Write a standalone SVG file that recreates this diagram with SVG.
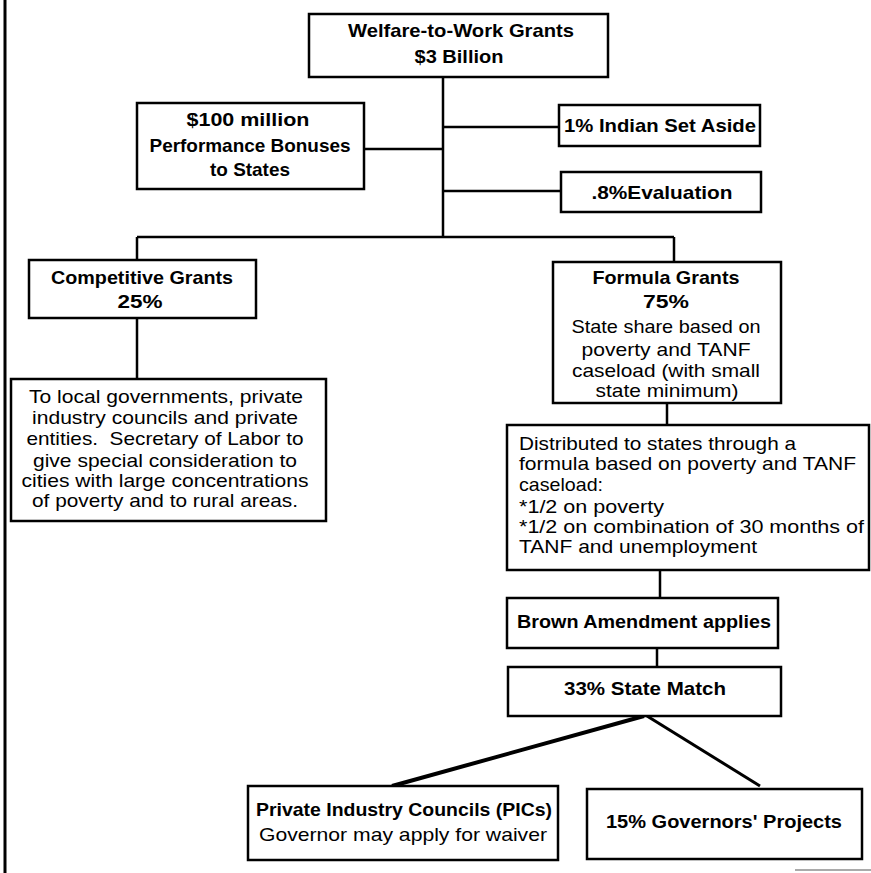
<svg xmlns="http://www.w3.org/2000/svg" width="871" height="873" viewBox="0 0 871 873">
<style>
.box{fill:#fff;stroke:#000;stroke-width:2.5}
.ln{stroke:#000;stroke-width:2.5;fill:none}
text{font-family:"Liberation Sans",Arial,sans-serif;font-size:19px;fill:#000}
.b{font-weight:bold}
.c{text-anchor:middle}
</style>
<rect width="871" height="873" fill="#fff"/>
<line x1="5" y1="0" x2="5" y2="873" stroke="#000" stroke-width="3"/>
<line x1="795" y1="870" x2="871" y2="870" stroke="#aaa" stroke-width="2"/>
<g id="connectors">
<path class="ln" d="M443 77V237M364 149H443M443 127H559M443 191H561M137 237H674M137 237V260M674 237V262M137 318V379M667 403V425M660 570V598M657 648V667"/>
<line x1="644" y1="716" x2="392" y2="786" stroke="#000" stroke-width="4"/>
<line x1="647" y1="716" x2="760" y2="786" stroke="#000" stroke-width="3"/>
</g>
<g id="n_top"><rect class="box" x="309" y="14" width="299" height="63"/>
<text class="b c" x="461" y="37" textLength="226" lengthAdjust="spacingAndGlyphs">Welfare-to-Work Grants</text>
<text class="b c" x="459" y="63" textLength="89" lengthAdjust="spacingAndGlyphs">$3 Billion</text></g>
<g id="n_bonus"><rect class="box" x="137" y="103" width="227" height="86"/>
<text class="b c" x="248" y="126" textLength="123" lengthAdjust="spacingAndGlyphs">$100 million</text>
<text class="b c" x="250" y="152" textLength="201" lengthAdjust="spacingAndGlyphs">Performance Bonuses</text>
<text class="b c" x="250" y="176" textLength="80" lengthAdjust="spacingAndGlyphs">to States</text></g>
<g id="n_indian"><rect class="box" x="559" y="105" width="201" height="41"/>
<text class="b c" x="660" y="132" textLength="192" lengthAdjust="spacingAndGlyphs">1% Indian Set Aside</text></g>
<g id="n_eval"><rect class="box" x="561" y="172" width="200" height="40"/>
<text class="b c" x="662" y="199" textLength="141" lengthAdjust="spacingAndGlyphs">.8%Evaluation</text></g>
<g id="n_comp"><rect class="box" x="29" y="260" width="227" height="58"/>
<text class="b c" x="142" y="284" textLength="182" lengthAdjust="spacingAndGlyphs">Competitive Grants</text>
<text class="b c" x="140" y="308" textLength="45" lengthAdjust="spacingAndGlyphs">25%</text></g>
<g id="n_formula"><rect class="box" x="553" y="262" width="228" height="141"/>
<text class="b c" x="666" y="284" textLength="147" lengthAdjust="spacingAndGlyphs">Formula Grants</text>
<text class="b c" x="666" y="308" textLength="46" lengthAdjust="spacingAndGlyphs">75%</text>
<text class="c" x="666" y="333" textLength="189" lengthAdjust="spacingAndGlyphs">State share based on</text>
<text class="c" x="666" y="356" textLength="169" lengthAdjust="spacingAndGlyphs">poverty and TANF</text>
<text class="c" x="666" y="377" textLength="188" lengthAdjust="spacingAndGlyphs">caseload (with small</text>
<text class="c" x="667" y="397" textLength="143" lengthAdjust="spacingAndGlyphs">state minimum)</text></g>
<g id="n_local"><rect class="box" x="11" y="379" width="315" height="142"/>
<text class="c" x="166" y="403" textLength="274" lengthAdjust="spacingAndGlyphs">To local governments, private</text>
<text class="c" x="165" y="424" textLength="266" lengthAdjust="spacingAndGlyphs">industry councils and private</text>
<text class="c" x="165" y="445" textLength="277" lengthAdjust="spacingAndGlyphs" xml:space="preserve">entities.  Secretary of Labor to</text>
<text class="c" x="165" y="467" textLength="264" lengthAdjust="spacingAndGlyphs">give special consideration to</text>
<text class="c" x="165" y="487" textLength="287" lengthAdjust="spacingAndGlyphs">cities with large concentrations</text>
<text class="c" x="165" y="507" textLength="266" lengthAdjust="spacingAndGlyphs">of poverty and to rural areas.</text></g>
<g id="n_dist"><rect class="box" x="507" y="425" width="362" height="145"/>
<text x="519" y="450" textLength="277" lengthAdjust="spacingAndGlyphs">Distributed to states through a</text>
<text x="519" y="470" textLength="337" lengthAdjust="spacingAndGlyphs">formula based on poverty and TANF</text>
<text x="519" y="491" textLength="84" lengthAdjust="spacingAndGlyphs">caseload:</text>
<text x="519" y="513" textLength="145" lengthAdjust="spacingAndGlyphs">*1/2 on poverty</text>
<text x="519" y="533" textLength="345" lengthAdjust="spacingAndGlyphs">*1/2 on combination of 30 months of</text>
<text x="519" y="553" textLength="238" lengthAdjust="spacingAndGlyphs">TANF and unemployment</text></g>
<g id="n_brown"><rect class="box" x="507" y="598" width="271" height="50"/>
<text class="b c" x="644" y="628" textLength="254" lengthAdjust="spacingAndGlyphs">Brown Amendment applies</text></g>
<g id="n_match"><rect class="box" x="508" y="667" width="273" height="49"/>
<text class="b c" x="645" y="695" textLength="162" lengthAdjust="spacingAndGlyphs">33% State Match</text></g>
<g id="n_pics"><rect class="box" x="248" y="786" width="310" height="74"/>
<text class="b c" x="404" y="816" textLength="296" lengthAdjust="spacingAndGlyphs">Private Industry Councils (PICs)</text>
<text class="c" x="403" y="841" textLength="288" lengthAdjust="spacingAndGlyphs">Governor may apply for waiver</text></g>
<g id="n_gov"><rect class="box" x="587" y="789" width="275" height="70"/>
<text class="b c" x="724" y="828" textLength="236" lengthAdjust="spacingAndGlyphs">15% Governors' Projects</text></g>
</svg>
